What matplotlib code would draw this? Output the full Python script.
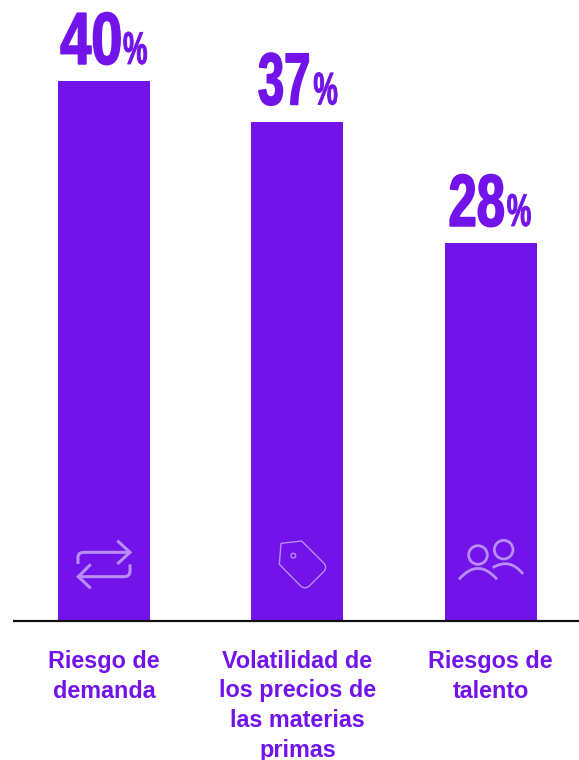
import matplotlib
matplotlib.use('Agg')
import matplotlib.pyplot as plt
from matplotlib.path import Path
from matplotlib.patches import PathPatch, Circle
from matplotlib.patheffects import AbstractPathEffect
from matplotlib.transforms import Affine2D

categories = ['Riesgo de\ndemanda', 'Volatilidad de\nlos precios de\nlas materias\nprimas', 'Riesgos de\ntalento']
values = [40, 37, 28]
num_right = [19, 14, 15]  # px from bar centre to end of the number
pct_left = [19, 16, 16]  # px from bar centre to start of the %
num_squeeze = [0.76, 0.64, 0.69]

PURPLE = '#7213EA'
ICON = '#B88DF5'
W, H = 579, 760
BASE = 621
STEP = 193.4
BOLD = 'Liberation Sans'


class Squeeze(AbstractPathEffect):
    # no condensed font installed, so squeeze the glyphs sideways and thicken them a bit
    def __init__(self, sx, extra=1.0, keep_right=False):
        super().__init__()
        self.sx = sx
        self.extra = extra
        self.keep_right = keep_right

    def draw_path(self, renderer, gc, tpath, affine, rgbFace=None):
        gc0 = renderer.new_gc()
        gc0.copy_properties(gc)
        gc0.set_linewidth(self.extra)
        gc0.set_foreground(rgbFace)
        x0 = tpath.get_extents().x1 if self.keep_right else 0
        squeeze = Affine2D().translate(-x0, 0).scale(self.sx, 1).translate(x0, 0)
        renderer.draw_path(gc0, tpath, squeeze + affine, rgbFace)
        gc0.restore()


fig = plt.figure(figsize=(W / 100, H / 100), dpi=100)
ax = fig.add_axes([0, (H - BASE) / H, 1, BASE / H])
ax.set_xlim(-104 / STEP, (W - 104) / STEP)
ax.set_ylim(0, BASE / 13.5)
ax.axis('off')

xs = list(range(len(values)))
ax.bar(xs, values, width=92 / STEP, color=PURPLE, linewidth=0)

for x, v, nr, pl, sq in zip(xs, values, num_right, pct_left, num_squeeze):
    t = ax.annotate(str(v), (x, v), xytext=(nr * 0.72, 12.3), textcoords='offset points',
                    ha='right', va='baseline', fontsize=53, fontweight='bold', family=BOLD, color=PURPLE)
    t.set_path_effects([Squeeze(sq, 1.2, keep_right=True)])
    t = ax.annotate('%', (x, v), xytext=(pl * 0.72, 12.3), textcoords='offset points',
                    ha='left', va='baseline', fontsize=33, fontweight='bold', family=BOLD, color=PURPLE)
    t.set_path_effects([Squeeze(0.6, 0.7)])

# labels under the axis
for x, label in zip(xs, categories):
    for i, line in enumerate(label.split('\n')):
        ax.annotate(line, (x, 0), xytext=(0, -(47 + i * 29.5) * 0.72), textcoords='offset points',
                    ha='center', va='baseline', fontsize=16.8, fontweight='bold',
                    family=BOLD, color=PURPLE, annotation_clip=False)

# overlay in pixel coordinates for axis line and icons
ov = fig.add_axes([0, 0, 1, 1])
ov.set_xlim(0, W)
ov.set_ylim(H, 0)
ov.axis('off')
ov.patch.set_alpha(0)
ov.plot([13, W], [621, 621], color='#111111', lw=1.6, solid_capstyle='butt')


def z(x, y):
    return 40 + x / 3, 520 + y / 3


def stroke(verts, codes, lw=1.5):
    ov.add_patch(PathPatch(Path([z(*v) for v in verts], codes), fill=False, edgecolor=ICON, lw=lw,
                           capstyle='butt', joinstyle='miter'))


M, L, Q = Path.MOVETO, Path.LINETO, Path.CURVE3

# swap arrows
stroke([(114, 132), (114, 112), (114, 97), (132, 97), (270, 97)], [M, L, Q, Q, L], 2.2)
stroke([(232, 62), (270, 97), (232, 132)], [M, L, L], 2.2)
stroke([(270, 133), (270, 153), (270, 170), (252, 170), (115, 170)], [M, L, Q, Q, L], 2.2)
stroke([(152, 133), (115, 170), (152, 205)], [M, L, L], 2.2)

# price tag
stroke([(723, 70), (785, 63), (852, 130), (862, 142), (852, 154), (808, 198), (795, 209), (782, 198),
        (718, 133), (723, 70)], [M, L, L, Q, Q, L, Q, Q, L, L], 1.0)
ov.add_patch(Circle(z(760, 107), 7 / 3, fill=False, edgecolor=ICON, lw=1.0))

# people
ov.add_patch(Circle(z(1314, 105), 28 / 3, fill=False, edgecolor=ICON, lw=2.0))
ov.add_patch(Circle(z(1391, 89), 28 / 3, fill=False, edgecolor=ICON, lw=2.0))
stroke([(1257, 178), (1314, 112), (1371, 178)], [M, Q, Q], 2.0)
stroke([(1358, 143), (1410, 112), (1449, 162)], [M, Q, Q], 2.0)

fig.savefig('out.png', dpi=100)
